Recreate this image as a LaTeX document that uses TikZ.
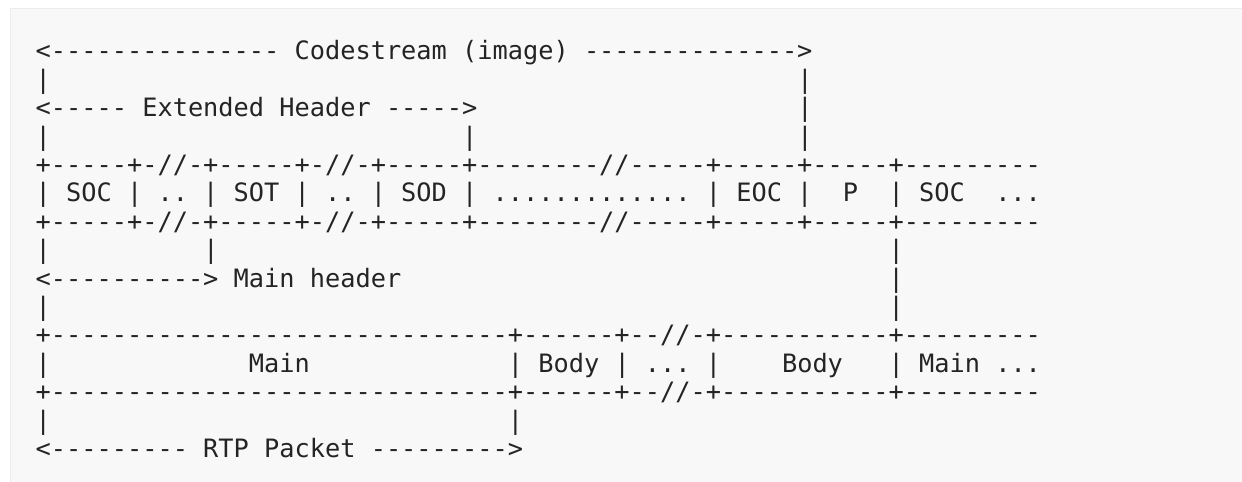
\documentclass[tikz,border=0pt]{standalone}
\usepackage{fontspec}
\setmonofont{DejaVu Sans Mono}
\definecolor{panel}{HTML}{F8F8F8}
\definecolor{panelrule}{HTML}{ECECEC}
\definecolor{ink}{HTML}{242424}
\newcommand\gap[1]{\hspace*{#1\fontcharwd\font`M}}
\begin{document}
\begin{tikzpicture}[x=1bp,y=-1bp,
  asciiline/.style={anchor=base west, inner sep=0pt, outer sep=0pt, text=ink,
    font=\ttfamily\fontsize{25.3bp}{28.4bp}\selectfont}]
\useasboundingbox (0,0) rectangle (1242,482);
\fill[white] (0,0) rectangle (1242,482);
\filldraw[fill=panel, draw=panelrule, line width=1.2bp] (10.5,8.5) rectangle (1260,500);
\def\xo{35.7}
\node[asciiline] (l1)  at (\xo, 60.0)  {<---------------~Codestream~(image)~-------------->};
\node[asciiline] (l2)  at (\xo, 88.4)  {|\gap{49}|};
\node[asciiline] (l3)  at (\xo, 116.8) {<-----~Extended~Header~----->\gap{21}|};
\node[asciiline] (l4)  at (\xo, 145.2) {|\gap{27}|\gap{21}|};
\node[asciiline] (l5)  at (\xo, 173.6) {+-----+-//-+-----+-//-+-----+--------//-----+-----+-----+---------};
\node[asciiline] (l6)  at (\xo, 202.0) {|~SOC~|~..~|~SOT~|~..~|~SOD~|~.............~|~EOC~|~~P~~|~SOC~~...};
\node[asciiline] (l7)  at (\xo, 230.4) {+-----+-//-+-----+-//-+-----+--------//-----+-----+-----+---------};
\node[asciiline] (l8)  at (\xo, 258.8) {|\gap{10}|\gap{44}|};
\node[asciiline] (l9)  at (\xo, 287.2) {<---------->~Main~header\gap{32}|};
\node[asciiline] (l10) at (\xo, 315.6) {|\gap{55}|};
\node[asciiline] (l11) at (\xo, 344.0) {+------------------------------+------+--//-+-----------+---------};
\node[asciiline] (l12) at (\xo, 372.4) {|\gap{13}Main\gap{13}|~Body~|~...~|\gap{4}Body\gap{3}|~Main~...};
\node[asciiline] (l13) at (\xo, 400.8) {+------------------------------+------+--//-+-----------+---------};
\node[asciiline] (l14) at (\xo, 429.2) {|\gap{30}|};
\node[asciiline] (l15) at (\xo, 457.6) {<---------~RTP~Packet~--------->};
\end{tikzpicture}
\end{document}
